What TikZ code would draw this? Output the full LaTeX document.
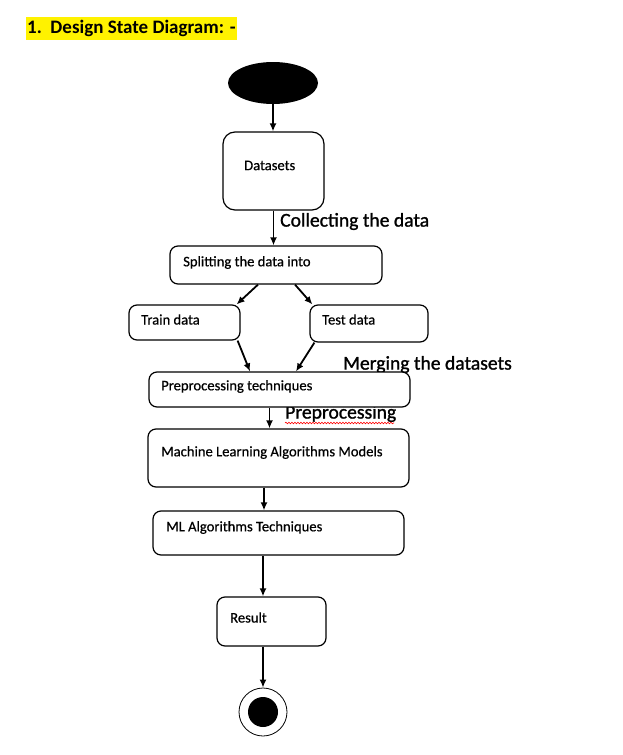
\documentclass[tikz,border=0pt]{standalone}
\usepackage{fontspec}
\setmainfont{Carlito}
\newfontfamily\heavyfont[FakeBold=1.2]{Carlito}
\newfontfamily\boxfont[FakeBold=0.6]{Carlito}
\usetikzlibrary{arrows.meta,shapes.geometric,decorations.pathmorphing}
\tikzset{
  box/.style={draw, line width=1.2pt, rounded corners=8pt, fill=white, inner sep=0pt},
  txt/.style={anchor=west, inner sep=0pt, font=\boxfont\fontsize{14.6}{17}\selectfont},
  note/.style={anchor=west, inner sep=0pt, font=\heavyfont\fontsize{19.6}{24}\selectfont},
  arr/.style={line width=1.8pt, -{Latex[length=8pt,width=7pt]}},
}
\begin{document}
\begin{tikzpicture}[x=1pt, y=-1pt]
\useasboundingbox (0,0) rectangle (622,755);
\node[fill=yellow, anchor=west, inner xsep=1pt, inner ysep=0pt, minimum height=23pt, font=\fontsize{19}{22}\selectfont\bfseries] (title) at (26,28.5) {1.\ \ Design State Diagram: -};
% labels beside the arrows
\node[note] (lcollect) at (280,221.5) {Collecting the data};
\node[note] (lmerge) at (343,364.5) {Merging the datasets};
\node[note] (lprep) at (285,413.5) {Preprocessing};
\draw[red, line width=0.6pt, decorate, decoration={snake, amplitude=0.8pt, segment length=3pt}] (285,423) -- (394,423);
% states
\node[ellipse, fill=black, minimum width=90pt, minimum height=42pt] (start) at (273,83) {};
\node[box, rounded corners=12pt, minimum width=101pt, minimum height=78pt] (ds) at (273.5,171) {};
\node[box, minimum width=212pt, minimum height=38pt] (split) at (276,265) {};
\node[box, minimum width=111pt, minimum height=35pt] (train) at (184.5,322.5) {};
\node[box, minimum width=118pt, minimum height=37pt] (test) at (369,323.5) {};
\node[box, minimum width=261pt, minimum height=35pt] (prep) at (279.5,389.5) {};
\node[box, minimum width=261pt, minimum height=58pt] (mlm) at (278.5,458) {};
\node[box, minimum width=251pt, minimum height=44pt] (mlt) at (278.5,533) {};
\node[box, minimum width=109pt, minimum height=49pt] (res) at (271.5,621.5) {};
\node[circle, draw, line width=0.8pt, minimum size=48pt, inner sep=0pt] (stop) at (263,712) {};
\node[circle, fill=black, minimum size=30pt, inner sep=0pt] (stopin) at (stop) {};
% texts in the states
\node[txt] (tds) at (244,165.5) {Datasets};
\node[txt] (tsplit) at (183,262.5) {Splitting the data into};
\node[txt] (ttrain) at (141,319.5) {Train data};
\node[txt] (ttest) at (322,319.5) {Test data};
\node[txt] (tprep) at (161,386.5) {Preprocessing techniques};
\node[txt] (tmlm) at (161,452.5) {Machine Learning Algorithms Models};
\node[txt] (tmlt) at (166,527.5) {ML Algorithms Techniques};
\node[txt] (tres) at (230,617.5) {Result};
% transitions
\draw[arr] (start) -- (start |- ds.north);
\draw[arr] (ds.south) -- (ds.south |- split.north);
\draw[arr] ([xshift=-18pt]split.south) -- ([xshift=-4pt]train.north east);
\draw[arr] ([xshift=19pt]split.south) -- ([xshift=3pt]test.north west);
\draw[arr] ([xshift=-3pt]train.south east) -- ([xshift=-29.5pt]prep.north);
\draw[arr] ([xshift=5pt]test.south west) -- ([xshift=16.5pt]prep.north);
\draw[arr] ([xshift=-10pt]prep.south) -- ([xshift=-10pt]prep.south |- mlm.north);
\draw[arr] ([xshift=-14.5pt]mlm.south) -- ([xshift=-14.5pt]mlm.south |- mlt.north);
\draw[arr] ([xshift=-8.5pt]res.north |- mlt.south) -- ([xshift=-8.5pt]res.north);
\draw[arr] (stop |- res.south) -- (stop);
\end{tikzpicture}
\end{document}
